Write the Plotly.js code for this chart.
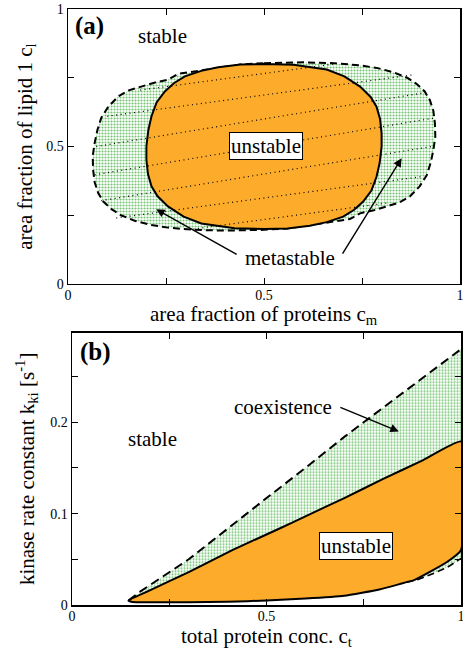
<!DOCTYPE html>
<html>
<head>
<meta charset="utf-8">
<script src="https://cdn.plot.ly/plotly-3.0.1.min.js"></script>
<style>
html,body{margin:0;padding:0;background:#fff;}
#chart{width:463px;height:652px;}
</style>
</head>
<body>
<div id="chart"></div>
<script>
// ---------- Panel (a): phase diagram (c_m, c_l) ----------
// binodal (dashed, metastable boundary), clockwise from top centre
const binodalA_x = [0.50,0.60,0.68,0.745,0.79,0.83,0.865,0.889,0.910,0.923,0.932,0.936,0.937,0.932,0.925,0.915,0.897,0.872,0.845,0.813,0.780,0.745,0.719,0.673,0.617,0.56,0.50,
                    0.44,0.40,0.32,0.255,0.21,0.17,0.135,0.111,0.09,0.077,0.068,0.064,0.063,0.068,0.075,0.085,0.103,0.128,0.155,0.187,0.22,0.255,0.281,0.327,0.383,0.44,0.50];
const binodalA_y = [0.803,0.806,0.803,0.795,0.785,0.770,0.750,0.728,0.700,0.669,0.630,0.584,0.535,0.487,0.440,0.395,0.355,0.318,0.296,0.281,0.268,0.257,0.236,0.226,0.214,0.202,0.197,
                    0.196,0.194,0.197,0.205,0.215,0.230,0.250,0.272,0.300,0.331,0.370,0.416,0.465,0.513,0.560,0.605,0.645,0.682,0.704,0.719,0.732,0.743,0.764,0.774,0.786,0.798,0.803];
// spinodal (solid, unstable boundary), clockwise from top centre
const spinodalA_x = [0.50,0.575,0.66,0.705,0.745,0.772,0.787,0.796,0.800,0.800,0.795,0.787,0.774,0.753,0.73,0.702,0.66,0.617,0.56,0.50,
                     0.425,0.34,0.295,0.255,0.228,0.213,0.204,0.200,0.200,0.205,0.213,0.226,0.247,0.27,0.298,0.34,0.383,0.44,0.50];
const spinodalA_y = [0.800,0.797,0.780,0.755,0.718,0.680,0.645,0.600,0.548,0.500,0.440,0.390,0.340,0.300,0.270,0.245,0.225,0.212,0.202,0.200,
                     0.203,0.220,0.245,0.282,0.320,0.355,0.400,0.452,0.500,0.560,0.610,0.660,0.700,0.730,0.755,0.775,0.788,0.798,0.800];
// tie lines (dotted): start and end points
const tieA_x1 = [0.184,0.100,0.072,0.068,0.085,0.123,0.320];
const tieA_y1 = [0.705,0.610,0.500,0.397,0.303,0.240,0.200];
const tieA_x2 = [0.680,0.877,0.915,0.932,0.928,0.900,0.816];
const tieA_y2 = [0.800,0.760,0.697,0.603,0.500,0.390,0.295];

// ---------- Panel (b): k_ki vs c_t ----------
const coexUpper_x = [0.145,0.175,0.30,0.412,0.50,0.60,0.70,0.80,0.90,1.00];
const coexUpper_y = [0.005,0.0146,0.050,0.088,0.117,0.150,0.184,0.216,0.248,0.280];
const spinUpper_x = [0.145,0.20,0.30,0.412,0.535,0.60,0.70,0.80,0.90,1.00];
const spinUpper_y = [0.005,0.016,0.036,0.060,0.084,0.097,0.117,0.138,0.158,0.179];
const spinLower_x = [0.145,0.155,0.20,0.30,0.40,0.50,0.60,0.70,0.79,0.835,0.86,0.878,0.921,0.964,1.00];
const spinLower_y = [0.005,0.0033,0.003,0.003,0.0035,0.005,0.007,0.010,0.017,0.022,0.025,0.027,0.0365,0.047,0.060];
const coexLower_x = [0.86,0.89,0.921,0.964,1.00];
const coexLower_y = [0.025,0.028,0.033,0.041,0.051];

// tick labels
const tickA_vals = [0,0.25,0.5,0.75,1];
const tickA_text = ['0','','0.5','','1'];
const tickBy_vals = [0,0.05,0.1,0.15,0.2,0.25];
const tickBy_text = ['0','','0.1','','0.2',''];

const GREEN_BG = '#ffffff', GREEN_FG = '#74c474';
const ORANGE = '#fdab2a';
const FONT = 'Liberation Serif, Times New Roman, serif';

function rev(a){ return a.slice().reverse(); }
function ties(a1,a2){ const o=[]; for(let i=0;i<a1.length;i++){o.push(a1[i],a2[i],null);} return o; }

const greenPattern = {shape:'.', bgcolor:GREEN_BG, fgcolor:GREEN_FG, size:3, solidity:0.4};

const traces = [
  // panel a
  {x:binodalA_x, y:binodalA_y, xaxis:'x', yaxis:'y', mode:'lines', fill:'toself',
   fillcolor:'#d6efd6', fillpattern:greenPattern,
   line:{color:'black', width:2, dash:'7px,4px'}, hoverinfo:'skip'},
  {x:spinodalA_x, y:spinodalA_y, xaxis:'x', yaxis:'y', mode:'lines', fill:'toself',
   fillcolor:ORANGE, line:{color:'black', width:2}, hoverinfo:'skip'},
  {x:ties(tieA_x1,tieA_x2), y:ties(tieA_y1,tieA_y2), xaxis:'x', yaxis:'y', mode:'lines',
   line:{color:'black', width:1.2, dash:'1px,3.5px'}, connectgaps:false, hoverinfo:'skip'},
  // panel b fills
  {x:coexUpper_x.concat(rev(spinUpper_x)), y:coexUpper_y.concat(rev(spinUpper_y)), xaxis:'x2', yaxis:'y2',
   mode:'none', fill:'toself', fillcolor:'#d6efd6', fillpattern:greenPattern, hoverinfo:'skip'},
  {x:spinLower_x.filter(v=>v>=0.86).concat(rev(coexLower_x)),
   y:spinLower_y.filter((v,i)=>spinLower_x[i]>=0.86).concat(rev(coexLower_y)), xaxis:'x2', yaxis:'y2',
   mode:'none', fill:'toself', fillcolor:'#d6efd6', fillpattern:greenPattern, hoverinfo:'skip'},
  {x:spinUpper_x.concat(rev(spinLower_x)), y:spinUpper_y.concat(rev(spinLower_y)), xaxis:'x2', yaxis:'y2',
   mode:'lines', fill:'toself', fillcolor:ORANGE, line:{color:'black', width:2, shape:'spline', smoothing:0.4}, hoverinfo:'skip'},
  // panel b lines
  {x:coexUpper_x, y:coexUpper_y, xaxis:'x2', yaxis:'y2', mode:'lines',
   line:{color:'black', width:2, dash:'9px,5px'}, hoverinfo:'skip'},
  {x:coexLower_x, y:coexLower_y, xaxis:'x2', yaxis:'y2', mode:'lines',
   line:{color:'black', width:1.6, dash:'7px,4px'}, hoverinfo:'skip'}
];

const axBase = {
  showgrid:false, zeroline:false, showline:true, linecolor:'black', linewidth:1.5, mirror:'ticks',
  ticks:'inside', ticklen:6, tickwidth:1, tickcolor:'black', ticklabeloverflow:'allow',
  tickfont:{family:FONT, size:14, color:'black'}, tickmode:'array', fixedrange:true
};

const titleFont = {family:FONT, size:21, color:'black'};

const layout = {
  width:463, height:652,
  margin:{l:68, r:2, t:9, b:47},
  paper_bgcolor:'white', plot_bgcolor:'white',
  showlegend:false,
  font:{family:FONT, color:'black'},
  xaxis:Object.assign({}, axBase, {domain:[0,0.9975], range:[0,1], anchor:'y', ticklabelstandoff:-2,
     tickvals:tickA_vals, ticktext:tickA_text}),
  yaxis:Object.assign({}, axBase, {domain:[0.5386,1], range:[0,1], anchor:'x',
     tickvals:tickA_vals, ticktext:tickA_text,
     title:{text:'area fraction of lipid 1 c<sub>l</sub>', font:titleFont, standoff:8}}),
  xaxis2:Object.assign({}, axBase, {domain:[0.0102,1], range:[0,1], anchor:'y2', ticklabelstandoff:-2,
     tickvals:tickA_vals, ticktext:tickA_text}),
  yaxis2:Object.assign({}, axBase, {domain:[0,0.4569], range:[0,0.298], anchor:'x2',
     tickvals:tickBy_vals, ticktext:tickBy_text,
     title:{text:'kinase rate constant k<sub>ki</sub> [s<sup>-1</sup>]', font:titleFont, standoff:10}}),
  annotations:[
    // x-axis titles
    {xref:'x domain', yref:'y domain', x:0.5, y:0, xanchor:'center', yanchor:'top', yshift:-16,
     text:'area fraction of proteins c<sub>m</sub>', showarrow:false, font:titleFont},
    {xref:'x2 domain', yref:'y2 domain', x:0.5, y:0, xanchor:'center', yanchor:'top', yshift:-17,
     text:'total protein conc. c<sub>t</sub>', showarrow:false, font:titleFont},
    // panel a labels
    {xref:'x', yref:'y', x:0.013, y:0.938, xanchor:'left', yanchor:'middle', text:'<b>(a)</b>', showarrow:false, font:{family:FONT, size:25}},
    {xref:'x', yref:'y', x:0.242, y:0.902, text:'stable', showarrow:false, font:{family:FONT, size:21}},
    {xref:'x', yref:'y', x:0.504, y:0.502, text:'unstable', showarrow:false, font:{family:FONT, size:21},
     bgcolor:'white', bordercolor:'black', borderwidth:1, borderpad:1},
    {xref:'x', yref:'y', x:0.566, y:0.095, text:'metastable', showarrow:false, font:{family:FONT, size:21}},
    {xref:'x', yref:'y', x:0.225, y:0.272, axref:'x', ayref:'y', ax:0.434, ay:0.105, text:'', showarrow:true,
     arrowhead:2, arrowsize:1.2, arrowwidth:1.4, arrowcolor:'black'},
    {xref:'x', yref:'y', x:0.851, y:0.457, axref:'x', ayref:'y', ax:0.698, ay:0.105, text:'', showarrow:true,
     arrowhead:2, arrowsize:1.2, arrowwidth:1.4, arrowcolor:'black'},
    // panel b labels
    {xref:'x2', yref:'y2', x:0.015, y:0.277, xanchor:'left', yanchor:'middle', text:'<b>(b)</b>', showarrow:false, font:{family:FONT, size:25}},
    {xref:'x2', yref:'y2', x:0.206, y:0.182, text:'stable', showarrow:false, font:{family:FONT, size:21}},
    {xref:'x2', yref:'y2', x:0.543, y:0.217, text:'coexistence', showarrow:false, font:{family:FONT, size:21}},
    {xref:'x2', yref:'y2', x:0.840, y:0.190, axref:'x2', ayref:'y2', ax:0.686, ay:0.217, text:'', showarrow:true,
     arrowhead:2, arrowsize:1.2, arrowwidth:1.4, arrowcolor:'black'},
    {xref:'x2', yref:'y2', x:0.731, y:0.065, text:'unstable', showarrow:false, font:{family:FONT, size:21},
     bgcolor:'white', bordercolor:'black', borderwidth:1, borderpad:1}
  ]
};

Plotly.newPlot('chart', traces, layout, {displayModeBar:false, staticPlot:true});
</script>
</body>
</html>
